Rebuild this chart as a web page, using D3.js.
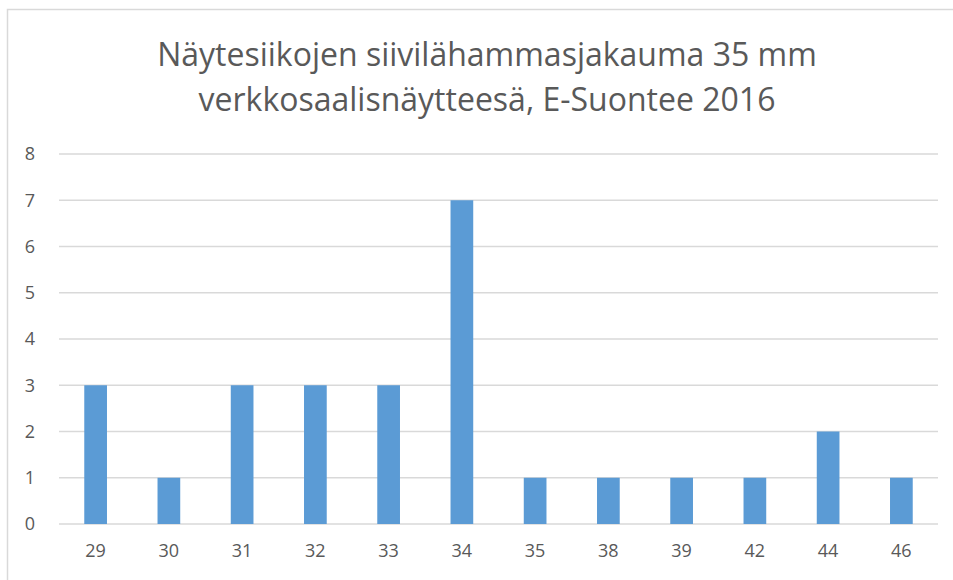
<!DOCTYPE html>
<html>
<head>
<meta charset="utf-8">
<script src="https://cdn.jsdelivr.net/npm/d3@7"></script>
<style>
  body { margin: 0; background: #fff; }
  text { font-family: "Open Sans", "Liberation Sans", sans-serif; fill: #595959; }
</style>
</head>
<body>
<div id="chart"></div>
<script>
var categories = ["29", "30", "31", "32", "33", "34", "35", "38", "39", "42", "44", "46"];
var values = [3, 1, 3, 3, 3, 7, 1, 1, 1, 1, 2, 1];
var yTicks = [0, 1, 2, 3, 4, 5, 6, 7, 8];
var titleLines = ["Näytesiikojen siivilähammasjakauma 35 mm", "verkkosaalisnäytteesä, E-Suontee 2016"];

var max_w = 953;
var max_h = 580;
var margin = {top: 154, right: 15, bottom: 56, left: 59};
var width = max_w - margin.left - margin.right;
var height = max_h - margin.top - margin.bottom;

var x = d3.scaleBand()
        .domain(categories)
        .range([0, width])
        .paddingInner(0.69)
        .paddingOuter(0.345);

var y = d3.scaleLinear()
          .domain([0, 8])
          .range([height, 0]);

var root = d3.select("#chart")
  .append("svg")
    .attr("width", max_w)
    .attr("height", max_h);

// chart area border
root.append("rect")
  .attr("x", 7.5).attr("y", 9.5)
  .attr("width", 960).attr("height", 600)
  .attr("fill", "none")
  .attr("stroke", "#d9d9d9")
  .attr("stroke-width", 1.5);

root.selectAll(".title")
  .data(titleLines)
  .enter().append("text")
  .attr("class", "title")
  .attr("x", 487)
  .attr("y", function(d, i){ return 66 + i * 45; })
  .attr("text-anchor", "middle")
  .style("font-size", "32px")
  .text(function(d){ return d; });

var svg = root.append("g")
  .attr("transform", "translate(" + margin.left + "," + margin.top + ")");

// gridlines
svg.append("g")
  .selectAll("line")
  .data(yTicks)
  .enter().append("line")
  .attr("x1", 0).attr("x2", width)
  .attr("y1", function(d){ return y(d); })
  .attr("y2", function(d){ return y(d); })
  .attr("stroke", "#d9d9d9")
  .attr("stroke-width", 1.5);

svg.append("g")
  .selectAll("rect")
  .data(values)
  .enter().append("rect")
  .attr("x", function(d, i){ return x(categories[i]); })
  .attr("width", x.bandwidth())
  .attr("y", function(d){ return y(d); })
  .attr("height", function(d){ return height - y(d); })
  .attr("fill", "#5b9bd5");

var yAxis = svg.append("g")
  .call(d3.axisLeft(y).tickValues(yTicks).tickFormat(d3.format("d")).tickSize(0).tickPadding(24));
yAxis.select(".domain").remove();
yAxis.selectAll("text").style("font-size", "18px").attr("fill", "#595959");

var xAxis = svg.append("g")
  .attr("transform", "translate(0," + height + ")")
  .call(d3.axisBottom(x).tickSize(0).tickPadding(20));
xAxis.select(".domain").remove();
xAxis.selectAll("text").style("font-size", "18px").attr("fill", "#595959");
</script>
</body>
</html>
